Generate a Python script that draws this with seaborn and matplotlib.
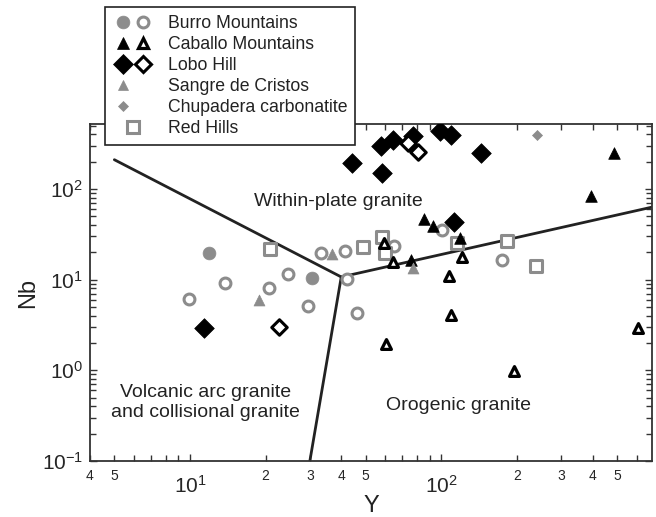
import matplotlib
matplotlib.use("Agg")
import matplotlib.pyplot as plt
import seaborn as sns
from matplotlib.lines import Line2D
from matplotlib.legend_handler import HandlerTuple
from matplotlib.ticker import FixedLocator, FixedFormatter, NullFormatter, LogFormatterSciNotation, LogLocator

# Y (ppm) vs Nb (ppm) for each sample group
burro_filled_y = [11.9, 30.6]
burro_filled_nb = [19.7, 10.4]
burro_open_y = [9.9, 13.8, 20.6, 24.6, 29.5, 33.2, 41.5, 42.2, 46.2, 65.0, 101, 175]
burro_open_nb = [6.1, 9.2, 8.1, 11.6, 5.1, 19.7, 20.5, 10.2, 4.3, 23.6, 35.3, 16.5]

caballo_filled_y = [76.0, 85.5, 92.9, 119, 396, 485]
caballo_filled_nb = [16.3, 46.7, 39.1, 28.8, 83.8, 249]
caballo_open_y = [59.3, 64.4, 121, 107, 109, 60.4, 194, 609]
caballo_open_nb = [25.4, 15.7, 17.8, 11.0, 4.1, 1.95, 0.98, 2.9]

lobo_filled_y = [11.4, 44.2, 58.2, 57.5, 64.4, 77.3, 99.1, 109, 144, 112]
lobo_filled_nb = [2.9, 194, 150, 298, 347, 384, 436, 394, 249, 43.2]
lobo_open_y = [22.6, 73.9, 80.9]
lobo_open_nb = [3.0, 321, 256]

sangre_y = [18.8, 36.8, 77.3]
sangre_nb = [6.0, 19.2, 13.3]

chupadera_y = [241]
chupadera_nb = [394]

redhills_y = [20.8, 48.9, 58.2, 59.8, 116, 183, 239]
redhills_nb = [21.8, 23.0, 29.6, 19.7, 25.4, 26.7, 14.2]

# discrimination field boundaries
bound_upper_y = [5, 40, 690]
bound_upper_nb = [210, 10.7, 63]
bound_lower_y = [40, 30]
bound_lower_nb = [10.7, 0.1]

GRAY = "#8c8c8c"
BLACK = "#000000"

sns.set_style("ticks")
plt.rcParams["font.family"] = ["Liberation Sans", "DejaVu Sans"]
plt.rcParams["text.color"] = "#222222"
plt.rcParams["axes.labelcolor"] = "#222222"

fig = plt.figure(figsize=(6.56, 5.17), dpi=100)
ax = fig.add_axes([90 / 656, 56 / 517, 562 / 656, 337 / 517])
ax.set_xscale("log")
ax.set_yscale("log")

sns.lineplot(x=bound_upper_y, y=bound_upper_nb, sort=False, color="#222222", lw=2.0, ax=ax, zorder=1)
sns.lineplot(x=bound_lower_y, y=bound_lower_nb, sort=False, color="#222222", lw=2.0, ax=ax, zorder=1)


def draw(xs, ys, marker, s, face, edge, lw, z):
    sns.scatterplot(x=xs, y=ys, marker=marker, s=s, color=face, edgecolor=edge,
                    linewidth=lw, ax=ax, zorder=z, legend=False)


draw(burro_open_y, burro_open_nb, "o", 61, "white", GRAY, 2.2, 3)
draw(burro_filled_y, burro_filled_nb, "o", 85, GRAY, GRAY, 0.5, 3)
draw(redhills_y, redhills_nb, "s", 70, "white", GRAY, 2.2, 3)
draw(caballo_filled_y, caballo_filled_nb, "^", 70, BLACK, BLACK, 0.5, 4)
draw(caballo_open_y, caballo_open_nb, "^", 50, "white", BLACK, 2.3, 4)
draw(sangre_y, sangre_nb, "^", 62, GRAY, GRAY, 0.5, 5)
draw(lobo_filled_y, lobo_filled_nb, "D", 100, BLACK, BLACK, 0.5, 5)
draw(lobo_open_y, lobo_open_nb, "D", 62, "white", BLACK, 2.2, 6)
draw(chupadera_y, chupadera_nb, "D", 26, GRAY, GRAY, 0.5, 5)

ax.set_xlim(4, 690)
ax.set_ylim(0.1, 520)

# region names
ax.text(38.9, 73, "Within-plate granite", fontsize=14, ha="center", va="center")
ax.text(11.5, 0.44, "Volcanic arc granite\nand collisional granite", fontsize=14,
        ha="center", va="center", linespacing=1.25)
ax.text(117, 0.41, "Orogenic granite", fontsize=14, ha="center", va="center")

# ticks
ax.xaxis.set_major_locator(FixedLocator([10, 100]))
ax.xaxis.set_major_formatter(LogFormatterSciNotation())
minor_x = [4, 5, 6, 7, 8, 9, 20, 30, 40, 50, 60, 70, 80, 90, 200, 300, 400, 500, 600]
minor_lbl = ["4", "5", "", "", "", "", "2", "3", "4", "5", "", "", "", "", "2", "3", "4", "5", ""]
ax.xaxis.set_minor_locator(FixedLocator(minor_x))
ax.xaxis.set_minor_formatter(FixedFormatter(minor_lbl))
ax.yaxis.set_major_locator(FixedLocator([0.1, 1, 10, 100]))
ax.yaxis.set_major_formatter(LogFormatterSciNotation())
ax.yaxis.set_minor_locator(LogLocator(base=10, subs=range(2, 10)))
ax.yaxis.set_minor_formatter(NullFormatter())

ax.tick_params(which="both", direction="in", top=True, right=True, color="#333333", width=1)
ax.tick_params(which="major", length=5)
ax.tick_params(which="minor", length=4)
ax.tick_params(axis="y", which="major", labelsize=15, pad=5)
ax.tick_params(axis="x", which="major", labelsize=15, pad=10)
ax.tick_params(axis="x", which="minor", labelsize=10, pad=6)
for sp in ax.spines.values():
    sp.set_linewidth(1.3)
    sp.set_color("#333333")

ax.set_xlabel("Y", fontsize=17, labelpad=-1)
ax.set_ylabel("Nb", fontsize=17, labelpad=2)

# legend
def mk(marker, ms, face, edge, mew):
    return Line2D([], [], ls="none", marker=marker, markersize=ms, markerfacecolor=face,
                  markeredgecolor=edge, markeredgewidth=mew)

blank = Line2D([], [], ls="none", marker="")
handles = [
    (mk("o", 9.2, GRAY, GRAY, 0.5), mk("o", 7.8, "white", GRAY, 2.2)),
    (mk("^", 8.4, BLACK, BLACK, 0.5), mk("^", 7.1, "white", BLACK, 2.3)),
    (mk("D", 10, BLACK, BLACK, 0.5), mk("D", 7.9, "white", BLACK, 2.2)),
    (mk("^", 7.9, GRAY, GRAY, 0.5), blank),
    (mk("D", 5.1, GRAY, GRAY, 0.5), blank),
    mk("s", 8.4, "white", GRAY, 2.2),
]
labels = ["Burro Mountains", "Caballo Mountains", "Lobo Hill", "Sangre de Cristos",
          "Chupadera carbonatite", "Red Hills"]
leg = fig.legend(handles, labels, loc="upper left", bbox_to_anchor=(105 / 656, 1 - 7 / 517),
                 borderaxespad=0, fontsize=12.7, handlelength=2.3, handletextpad=0.8,
                 borderpad=0.45, labelspacing=0.23, fancybox=False, framealpha=1,
                 edgecolor="#222222", handler_map={tuple: HandlerTuple(ndivide=None, pad=0)})
leg.get_frame().set_linewidth(1.2)

fig.savefig("out.png", dpi=100)
